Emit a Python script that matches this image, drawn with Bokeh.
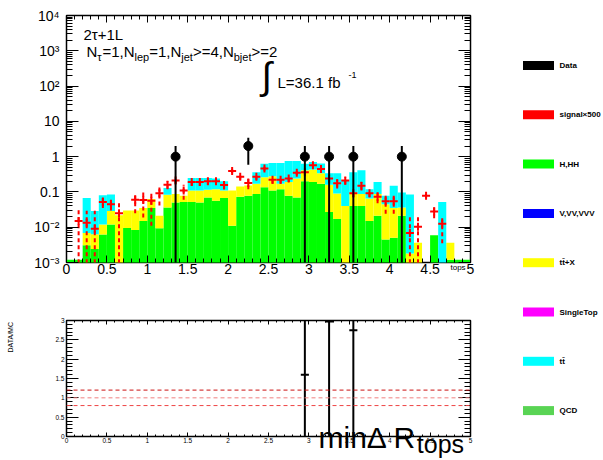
import numpy as np
from bokeh.plotting import figure
from bokeh.layouts import column, row
from bokeh.models import Range1d, FixedTicker, LogAxis, LinearAxis, Span, GridBox
from bokeh.embed import file_html
from bokeh.resources import INLINE
from bokeh.core.properties import value

# ---------------------------------------------------------------- data
X_MIN, X_MAX, N_BINS = 0.0, 5.0, 50

# stacked backgrounds (events per bin, 0.1 wide bins from 0 to 5)
h_hh = [0.0012, 0.0012, 0.0031, 0.0024, 0.0062, 0.012, 0.0, 0.0095, 0.0083, 0.015,
        0.035, 0.0093, 0.036, 0.050, 0.052, 0.052, 0.050, 0.070, 0.056, 0.067,
        0.011, 0.073, 0.078, 0.087, 0.135, 0.11, 0.12, 0.078, 0.07, 0.20,
        0.19, 0.17, 0.027, 0.017, 0.0, 0.040, 0.040, 0.015, 0.021, 0.0045,
        0.005, 0.021, 0.0, 0.0, 0.0, 0.0059, 0.0, 0.0012, 0.0012, 0.0012]
ttbar_x = [0.0, 0.0, 0.0038, 0.0039, 0.0058, 0.017, 0.022, 0.0205, 0.0217, 0.020,
           0.028, 0.0117, 0.047, 0.037, 0.026, 0.057, 0.059, 0.046, 0.064, 0.042,
           0.098, 0.069, 0.073, 0.083, 0.125, 0.17, 0.05, 0.112, 0.17, 0.21,
           0.24, 0.17, 0.133, 0.073, 0.040, 0.057, 0.047, 0.050, 0.066, 0.0405,
           0.030, 0.015, 0.0018, 0.0036, 0.0, 0.0, 0.0, 0.0024, 0.0, 0.0]
ttbar = [0.0, 0.0, 0.0601, 0.0227, 0.068, 0.056, 0.0, 0.0, 0.0, 0.0,
         0.0, 0.0, 0.047, 0.0, 0.0, 0.141, 0.141, 0.134, 0.12, 0.091,
         0.0, 0.0, 0.0, 0.19, 0.37, 0.38, 0.49, 0.56, 0.51, 0.215,
         0.27, 0.30, 0.176, 0.25, 0.17, 0.267, 0.323, 0.055, 0.103, 0.033,
         0.115, 0.061, 0.0832, 0.0, 0.0, 0.0, 0.052, 0.0, 0.0, 0.0]

data_counts = [0, 0, 0, 0, 0, 0, 0, 0, 0, 0,
               0, 0, 0, 1, 0, 0, 0, 0, 0, 0,
               0, 0, 2, 0, 0, 0, 0, 0, 0, 1,
               0, 0, 1, 0, 0, 1, 0, 0, 0, 0,
               0, 1, 0, 0, 0, 0, 0, 0, 0, 0]

nan = float("nan")
signal_x500 = [nan, 0.015, 0.0134, 0.0091, 0.052, 0.045, 0.025, nan, 0.060, 0.059,
               0.056, 0.091, 0.16, 0.21, 0.11, 0.19, 0.19, 0.20, 0.20, 0.158,
               0.39, 0.27, 0.18, 0.27, 0.46, 0.22, 0.22, 0.24, 0.35, 0.36,
               0.57, 0.45, 0.24, 0.176, 0.21, 0.091, 0.15, 0.091, 0.073, 0.054,
               0.054, nan, 0.0069, 0.0103, 0.078, 0.028, 0.0125, nan, nan, nan]
signal_err = [nan, 0.017, 0.016, 0.02, 0.017, 0.015, 0.026, nan, 0.035, 0.04,
              0.045, 0.05, 0.04, 0.04, 0.05, 0.04, 0.04, 0.04, 0.04, 0.04,
              0.05, 0.05, 0.06, 0.05, 0.06, 0.05, 0.05, 0.05, 0.05, 0.05,
              0.08, 0.07, 0.06, 0.05, 0.05, 0.02, 0.04, 0.02, 0.025, 0.03,
              0.03, nan, 0.014, 0.011, 0.01, 0.01, 0.009, nan, nan, nan]

X_TICKS = [0, 0.5, 1, 1.5, 2, 2.5, 3, 3.5, 4, 4.5, 5]
X_TICK_LABELS = ["0", "0.5", "1", "1.5", "2", "2.5", "3", "3.5", "4", "4.5", "5"]
Y_TICKS = [0.001, 0.01, 0.1, 1, 10, 100, 1000, 10000]
Y_TICK_LABELS = ["10\u207b\u00b3", "10\u207b\u00b2", "0.1", "1", "10", "10\u00b2", "10\u00b3", "10\u2074"]
R_TICKS = [0, 0.5, 1, 1.5, 2, 2.5, 3]
R_TICK_LABELS = ["0", "0.5", "1", "1.5", "2", "2.5", "3"]

LEG_NAMES = ["Data", "signal\u00d7500", "H,HH", "V,VV,VVV", "tt\u0304+X", "SingleTop", "tt\u0304", "QCD"]
LEG_COLORS = ["#000000", "#ff0000", "#00ff00", "#0000ff", "#ffff00", "#ff00ff", "#00ffff", "#59d454"]

FONT = "Liberation Sans"

# ---------------------------------------------------------------- geometry (page px)
PAGE_W, PAGE_H = 603, 460
FX0, FX1 = 66, 470
MY0, MY1 = 15, 262      # main frame top/bottom
RY0, RY1 = 320, 436     # ratio frame top/bottom
MAIN_H = 290
RATIO_H = PAGE_H - MAIN_H
MAIN_W = 480
FLOOR = 1e-6
BASE_SHIFT = 0.37       # rendered baseline sits this many em below the anchor

edges = np.linspace(X_MIN, X_MAX, N_BINS + 1)
lo, hi = edges[:-1], edges[1:]
ctr = 0.5 * (lo + hi)


def main_xy(px, py):
    x = X_MIN + (px - FX0) / (FX1 - FX0) * (X_MAX - X_MIN)
    y = 10 ** (-3 + (MY1 - py) / (MY1 - MY0) * 7)
    return x, y


def page_xy(px, py):
    return px, py


def style_axis(ax, major_in, minor_in, labels=None, size="14px", standoff=2):
    ax.axis_line_color = None
    ax.major_tick_in = major_in
    ax.major_tick_out = 0
    ax.minor_tick_in = minor_in
    ax.minor_tick_out = 0
    ax.major_tick_line_color = "black"
    ax.minor_tick_line_color = "black"
    ax.major_label_text_font = FONT
    if labels is None:
        ax.major_label_text_font_size = "1px"
        ax.major_label_text_color = None
        ax.major_label_standoff = 0
    else:
        ax.major_label_text_color = "black"
        ax.major_label_overrides = labels
        ax.major_label_text_font_size = size
        ax.major_label_standoff = standoff


WIDTHS = {'N': .722, '=': .584, '1': .556, ',': .278, '>': .584, '4': .556, '2': .556,
          'l': .222, 'e': .556, 'p': .556, 'j': .222, 't': .278, 'b': .556, '\u03c4': .46,
          'L': .556, '3': .556, '6': .556, '.': .278, ' ': .278, 'f': .278, '+': .584,
          'm': .833, 'i': .222, 'n': .556, '\u0394': .668, 'R': .722, 'o': .556, 's': .5}


def put_segments(fig, conv, px, py, segs):
    """Place text pieces left to right; py is the wanted baseline (page px)."""
    for txt, size, dy in segs:
        x, y = conv(px, py + dy - BASE_SHIFT * size)
        fig.text(x=[float(x)], y=[float(y)], text=[txt], text_font=value(FONT),
                 text_font_size=value(f"{size}px"), text_baseline="alphabetic",
                 text_align="left", text_color="black")
        px += sum(WIDTHS.get(c, .556) for c in txt) * size


x_minor = [round(0.1 * k, 1) for k in range(51) if k % 5]
y_minor = [m * 10.0 ** e for e in range(-3, 4) for m in range(2, 10)]
r_minor = [round(0.1 * k, 1) for k in range(31) if k % 5]

# ---------------------------------------------------------------- main panel
p = figure(frame_width=FX1 - FX0, frame_height=MY1 - MY0,
           x_range=Range1d(X_MIN, X_MAX), y_range=Range1d(1e-3, 1e4), y_axis_type="log",
           output_backend="svg", toolbar_location=None,
           min_border_left=FX0, min_border_right=MAIN_W - FX1,
           min_border_top=MY0, min_border_bottom=MAIN_H - MY1)
p.grid.visible = False
p.outline_line_color = "black"
p.outline_line_width = 1.5

xt = FixedTicker(ticks=X_TICKS, minor_ticks=x_minor)
yt = FixedTicker(ticks=Y_TICKS, minor_ticks=y_minor)
p.xaxis.ticker = xt
p.yaxis.ticker = yt
style_axis(p.xaxis[0], 7, 4, dict(zip(X_TICKS, X_TICK_LABELS)), "14px", 1)
style_axis(p.yaxis[0], 12, 6, dict(zip(Y_TICKS, Y_TICK_LABELS)), "14px", 7)
ax_top = LinearAxis(ticker=xt)
style_axis(ax_top, 7, 4)
p.add_layout(ax_top, "above")
ax_right = LogAxis(ticker=yt)
style_axis(ax_right, 12, 6)
p.add_layout(ax_right, "right")

base = np.zeros(N_BINS)
for vals, col in [(h_hh, "#00ff00"), (ttbar_x, "#ffff00"), (ttbar, "#00ffff")]:
    v = np.array(vals)
    top = base + v
    m = v > 0
    p.quad(left=lo[m], right=hi[m], bottom=np.maximum(base[m], FLOOR), top=top[m],
           fill_color=col, line_color=None)
    base = top
mc_total = base

sig = np.array(signal_x500)
se = np.array(signal_err)
ms = ~np.isnan(sig)
p.segment(x0=ctr[ms], x1=ctr[ms], y0=np.maximum(sig[ms] - se[ms], FLOOR), y1=sig[ms] + se[ms],
          line_color="#ff0000", line_width=2, line_dash="4 3")
p.scatter(x=ctr[ms], y=sig[ms], marker="cross", size=8, line_color="#ff0000", line_width=2)

d = np.array(data_counts, dtype=float)
md = d > 0
p.segment(x0=ctr[md], x1=ctr[md], y0=np.maximum(d[md] - np.sqrt(d[md]), FLOOR),
          y1=d[md] + np.sqrt(d[md]), line_color="black", line_width=2)
p.scatter(x=ctr[md], y=d[md], marker="circle", size=9, fill_color="black", line_color="black")

# texts inside the main frame
put_segments(p, main_xy, 83, 40, [("2\u03c4+1L", 15, 0)])
put_segments(p, main_xy, 86, 57, [("N", 15, 0), ("\u03c4", 11, 4), ("=1,N", 15, 0), ("lep", 11, 4),
                                  ("=1,N", 15, 0), ("jet", 11, 4), (">=4,N", 15, 0),
                                  ("bjet", 11, 4), (">=2", 15, 0)])
put_segments(p, main_xy, 261, 90, [("\u222b", 38, 0)])
put_segments(p, main_xy, 277, 88, [("L=36.1 fb", 15, 0)])
put_segments(p, main_xy, 348, 78, [("-1", 9, 0)])

# ---------------------------------------------------------------- ratio panel
r = figure(frame_width=FX1 - FX0, frame_height=RY1 - RY0,
           x_range=Range1d(X_MIN, X_MAX), y_range=Range1d(0, 3),
           output_backend="svg", toolbar_location=None,
           min_border_left=FX0, min_border_right=MAIN_W - FX1,
           min_border_top=RY0 - MAIN_H, min_border_bottom=RATIO_H - (RY1 - MAIN_H))
r.grid.visible = False
r.outline_line_color = "black"
r.outline_line_width = 1.5
rxt = FixedTicker(ticks=X_TICKS, minor_ticks=x_minor)
ryt = FixedTicker(ticks=R_TICKS, minor_ticks=r_minor)
r.xaxis.ticker = rxt
r.yaxis.ticker = ryt
style_axis(r.xaxis[0], 4, 2, dict(zip(X_TICKS, X_TICK_LABELS)), "6.5px", 1)
style_axis(r.yaxis[0], 12, 6, dict(zip(R_TICKS, R_TICK_LABELS)), "6.5px", 2)
r_top = LinearAxis(ticker=rxt)
style_axis(r_top, 4, 2)
r.add_layout(r_top, "above")
r_right = LinearAxis(ticker=ryt)
style_axis(r_right, 12, 6)
r.add_layout(r_right, "right")

for loc, col in [(1.2, "#cc1111"), (1.0, "#f08080"), (0.8, "#ee4444")]:
    r.add_layout(Span(location=loc, dimension="width", line_color=col, line_width=1, line_dash="4 3"))

safe_mc = np.where(mc_total > 0, mc_total, 1.0)
ratio = d / safe_mc
rerr = ratio / np.sqrt(np.where(md, d, 1.0))
mr = md & (ratio <= 3)
r.segment(x0=ctr[mr], x1=ctr[mr], y0=np.maximum(ratio[mr] - rerr[mr], 0), y1=ratio[mr] + rerr[mr],
          line_color="black", line_width=2)
r.segment(x0=lo[mr], x1=hi[mr], y0=ratio[mr], y1=ratio[mr], line_color="black", line_width=2)

# ---------------------------------------------------------------- legend panel
LEG_W, LEG_H = PAGE_W - MAIN_W, PAGE_H
leg = figure(width=LEG_W, height=LEG_H, x_range=Range1d(0, LEG_W), y_range=Range1d(LEG_H, 0),
             output_backend="svg", toolbar_location=None, x_axis_location=None, y_axis_location=None,
             min_border=0)
leg.grid.visible = False
leg.outline_line_color = None
ys = 65 + 49.3 * np.arange(len(LEG_NAMES))
leg.rect(x=538 - MAIN_W, y=ys, width=31, height=9, fill_color=LEG_COLORS, line_color=None)
leg.text(x=559 - MAIN_W, y=ys, text=LEG_NAMES, text_font=value(FONT), text_font_style="bold",
         text_font_size="8px", text_baseline="middle", text_color="black")

# ---------------------------------------------------------------- transparent page overlay for
# the free texts that sit across frame borders (axis titles)
ov = figure(width=PAGE_W, height=PAGE_H, x_range=Range1d(0, PAGE_W), y_range=Range1d(PAGE_H, 0),
            output_backend="svg", toolbar_location=None, x_axis_location=None, y_axis_location=None,
            min_border=0)
ov.grid.visible = False
ov.outline_line_color = None
ov.background_fill_color = None
ov.border_fill_color = None
put_segments(ov, page_xy, 318, 448, [("min\u0394 R", 30, 0), ("tops", 25, 5)])
put_segments(ov, page_xy, 450, 270, [("tops", 8, 0)])
ov.text(x=[13 - BASE_SHIFT * 7], y=[352], text=["DATA/MC"], angle=float(np.pi / 2),
        text_font=value(FONT), text_font_size=value("7px"), text_baseline="alphabetic",
        text_align="left", text_color="black")

chart = row(column(p, r), leg)
layout = GridBox(children=[(chart, 0, 0), (ov, 0, 0)])
open("out.html", "w").write(file_html(layout, INLINE))
